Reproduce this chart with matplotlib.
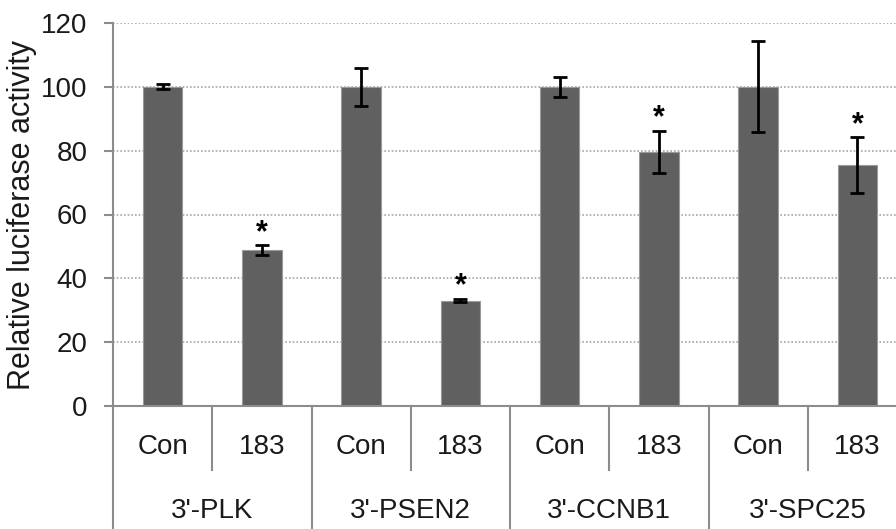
import matplotlib
matplotlib.use("Agg")
import matplotlib.pyplot as plt
from matplotlib.lines import Line2D

plt.rcParams['font.family'] = ['Liberation Sans', 'DejaVu Sans']

# data
groups = ["3'-PLK", "3'-PSEN2", "3'-CCNB1", "3'-SPC25"]
conditions = ["Con", "183"]
values = [100, 48.8, 100, 33.0, 100, 79.6, 100, 75.4]
errors = [0.8, 1.5, 6.0, 0.5, 3.2, 6.6, 14.3, 8.8]
significant = [False, True, False, True, False, True, False, True]

W, H = 896, 529
fig = plt.figure(figsize=(W / 100, H / 100), dpi=100)
# plot area runs past the right edge of the picture, as in the reference
left, right, top, bottom = 113, 907, 23, 406
ax = fig.add_axes([left / W, (H - bottom) / H, (right - left) / W, (bottom - top) / H])

x = list(range(len(values)))
ax.bar(x, values, width=0.4, color='#606060', edgecolor='#9a9a9a', linewidth=0.8, zorder=2)
ax.errorbar(x, values, yerr=errors, fmt='none', ecolor='black', elinewidth=2,
            capsize=5, capthick=2, zorder=3)

for xi, v, e, s in zip(x, values, errors, significant):
    if s:
        ax.text(xi, v + e + 1.4, '*', ha='center', va='baseline', fontsize=22,
                fontweight='bold', color='black')

ax.set_xlim(-0.5, len(values) - 0.5)
ax.set_ylim(0, 120)
ax.set_yticks(range(0, 121, 20))
ax.tick_params(axis='y', direction='out', length=6.5, width=1.5, color='#8c8c8c',
               labelsize=20, pad=12, labelcolor='#1a1a1a')
ax.set_xticks([])
ax.yaxis.grid(True, linestyle=(0, (1, 1.2)), color='#a6a6a6', linewidth=1.2, zorder=0)
ax.set_axisbelow(True)

for sp in ['top', 'right']:
    ax.spines[sp].set_visible(False)
for sp in ['left', 'bottom']:
    ax.spines[sp].set_color('#8c8c8c')
    ax.spines[sp].set_linewidth(1.5)

fig.text(22 / W, (H - 215) / H, 'Relative luciferase activity', rotation=90,
         ha='center', va='center', fontsize=22, color='#1a1a1a')

# two-level category axis
trans = ax.get_xaxis_transform()
ah = bottom - top
inner_len = 64 / ah
outer_len = 130 / ah
n_cond = len(conditions)
for i, xi in enumerate(x):
    ax.text(xi, -41 / ah, conditions[i % n_cond], transform=trans, ha='center',
            va='center', fontsize=20, color='#1a1a1a')
for g, name in enumerate(groups):
    xc = g * n_cond + (n_cond - 1) / 2
    ax.text(xc, -105 / ah, name, transform=trans, ha='center', va='center',
            fontsize=20, color='#1a1a1a')
for k in range(len(values) + 1):
    xs = k - 0.5
    length = outer_len if k % n_cond == 0 else inner_len
    ax.add_line(Line2D([xs, xs], [0, -length], transform=trans, color='#8c8c8c',
                       linewidth=1.5, clip_on=False))

fig.savefig('out.png', dpi=100)
